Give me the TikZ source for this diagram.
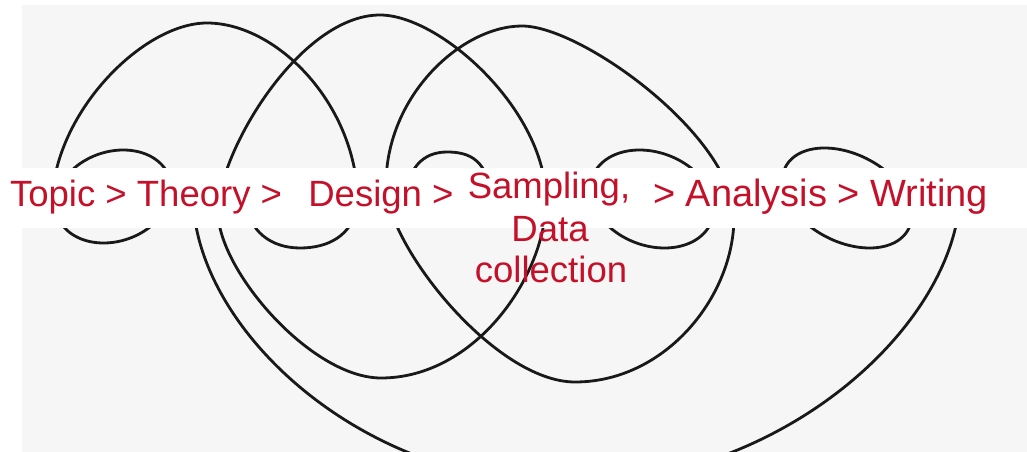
\documentclass[tikz,border=0pt]{standalone}
\usepackage{fontspec}
\setmainfont{Liberation Sans}
\definecolor{steptextred}{RGB}{196,16,40}
\definecolor{paper}{RGB}{246,246,246}
\begin{document}
\begin{tikzpicture}[x=0.75pt,y=-0.75pt,
  loopline/.style={line width=2.1pt, line join=round, line cap=round, black!90},
  steptext/.style={text=steptextred, font=\fontsize{27.4pt}{33pt}\selectfont, inner sep=0pt, outer sep=0pt},
  bigtext/.style={steptext, font=\fontsize{28.5pt}{33pt}\selectfont}]
\useasboundingbox (0,0) rectangle (1027,452);

% page background
\fill[white] (0,0) rectangle (1027,452);
\fill[paper] (22,5) rectangle (1027,452);

% large left arc
\draw[loopline] (52,205) .. controls (52,115) and (142,23) .. (207,23)
                         .. controls (277,23) and (358,105) .. (358,205);

% second large loop
\draw[loopline] (380,15) .. controls (440,15) and (546,110) .. (546,200)
                         .. controls (546,275) and (476,378) .. (381,378)
                         .. controls (311,378) and (218,270) .. (218,212)
                         .. controls (218,152) and (300,15) .. (380,15);

% third large loop
\draw[loopline] (522,26) .. controls (582,26) and (734,137) .. (734,217)
                         .. controls (734,297) and (665,382) .. (575,382)
                         .. controls (495,382) and (386,245) .. (386,185)
                         .. controls (386,95) and (462,26) .. (522,26);

% wide lower sweep
\draw[loopline] (193,195) .. controls (193,325) and (357,484) .. (567,484)
                          .. controls (787,484) and (960,320) .. (960,190);

% small loops along the line of text (slanted ellipses)
\draw[loopline] plot[samples=145, domain=0:360, variable=\t]
  ({113.4 - 0.211*46.5*sin(\t) + 57*cos(\t)}, {196.5 + 46.5*sin(\t)});
\draw[loopline] plot[samples=145, domain=0:360, variable=\t]
  ({652 + 0.254*49*sin(\t) + 60.5*cos(\t)}, {199 + 49*sin(\t)});
\draw[loopline] plot[samples=145, domain=0:360, variable=\t]
  ({847 + 0.45*50*sin(\t) + 60.6*cos(\t)}, {198 + 50*sin(\t)});

% open half loops
\draw[loopline] (246,200) .. controls (248,232) and (272,248) .. (300,248)
                          .. controls (328,248) and (352,236) .. (358,205);
\draw[loopline] (405,205) .. controls (406,168) and (423,152) .. (447,152)
                          .. controls (470,152) and (488,160) .. (492,200);

% white strip behind the labels
\fill[white] (0,168) rectangle (1027,228);

% labels
\node[steptext, anchor=base west] (firststeps) at (10,207) {Topic > Theory >\ \hspace{4.5pt}\ Design >};
\node[steptext, anchor=base] (sampling) at (549,199) {Sampling,};
\node[steptext, anchor=base] (data) at (550,242) {Data};
\node[steptext, anchor=base] (collection) at (551,282) {collection};
\node[bigtext, anchor=base west] (laststeps) at (653,207) {> Analysis > Writing};
\end{tikzpicture}
\end{document}
